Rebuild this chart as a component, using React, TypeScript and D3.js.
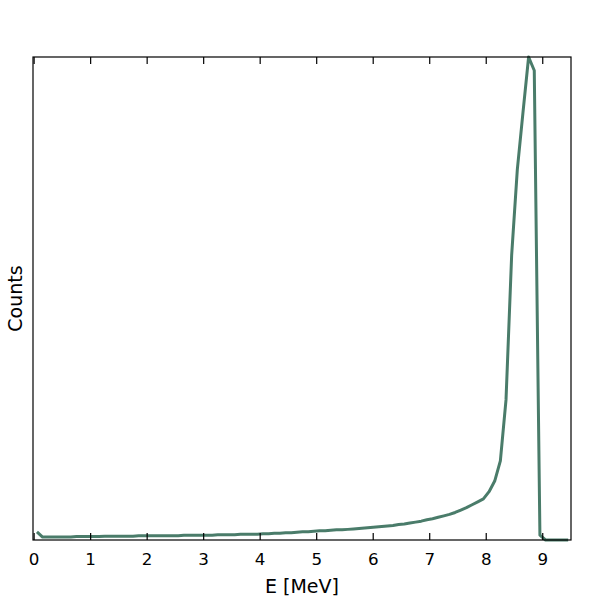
import React from "react";
import * as d3 from "d3";

// Bin centres (MeV) and counts (arbitrary units, peak = 1000)
const energies: number[] = [
  0.05, 0.15, 0.25, 0.35, 0.45, 0.55, 0.65, 0.75, 0.85, 0.95,
  1.05, 1.15, 1.25, 1.35, 1.45, 1.55, 1.65, 1.75, 1.85, 1.95,
  2.05, 2.15, 2.25, 2.35, 2.45, 2.55, 2.65, 2.75, 2.85, 2.95,
  3.05, 3.15, 3.25, 3.35, 3.45, 3.55, 3.65, 3.75, 3.85, 3.95,
  4.05, 4.15, 4.25, 4.35, 4.45, 4.55, 4.65, 4.75, 4.85, 4.95,
  5.05, 5.15, 5.25, 5.35, 5.45, 5.55, 5.65, 5.75, 5.85, 5.95,
  6.05, 6.15, 6.25, 6.35, 6.45, 6.55, 6.65, 6.75, 6.85, 6.95,
  7.05, 7.15, 7.25, 7.35, 7.45, 7.55, 7.65, 7.75, 7.85, 7.95,
  8.05, 8.15, 8.25, 8.35, 8.45, 8.55, 8.65, 8.75, 8.85, 8.95,
  9.05, 9.15, 9.25, 9.35, 9.45,
];
const counts: number[] = [
  17, 6, 6, 6, 6, 6, 6, 7, 7, 7,
  7, 7, 8, 8, 8, 8, 8, 8, 9, 9,
  9, 9, 9, 9, 9, 9, 10, 10, 10, 10,
  10, 10, 11, 11, 11, 11, 12, 12, 12, 12,
  13, 13, 14, 14, 15, 15, 16, 17, 17, 18,
  19, 19, 20, 21, 21, 22, 23, 24, 25, 26,
  27, 28, 29, 30, 32, 33, 35, 37, 39, 42,
  44, 47, 50, 53, 57, 62, 67, 73, 79, 85,
  100, 122, 164, 290, 590, 767, 885, 1000, 972, 10,
  0, 0, 0, 0, 0,
];
const xTicks: number[] = [0, 1, 2, 3, 4, 5, 6, 7, 8, 9];
const xLabel = "E [MeV]";
const yLabel = "Counts";

export default function App() {
  const W = 600, H = 600;
  const left = 33, right = 571, top = 57, bottom = 540;
  const x = d3.scaleLinear().domain([-0.02, 9.5]).range([left, right]);
  const y = d3.scaleLinear().domain([0, d3.max(counts) as number]).range([bottom, top]);
  const data = energies.map((e, i) => [e, counts[i]] as [number, number]);
  const line = d3.line<[number, number]>().x((d) => x(d[0])).y((d) => y(d[1]));
  const tickLen = 7;
  return (
    <svg width={W} height={H} style={{ position: "absolute", left: 0, top: 0 }}
      fontFamily="DejaVu Sans">
      <rect x={0} y={0} width={W} height={H} fill="#fff" />
      <path d={line(data) || ""} fill="none" stroke="#4a7c6a" strokeWidth={3}
        strokeLinejoin="round" strokeLinecap="butt" />
      <rect x={left} y={top} width={right - left} height={bottom - top}
        fill="none" stroke="#000" strokeWidth={1.2} />
      {xTicks.map((t) => (
        <g key={t}>
          <line x1={x(t)} x2={x(t)} y1={bottom} y2={bottom - tickLen} stroke="#000" strokeWidth={1.2} />
          <line x1={x(t)} x2={x(t)} y1={top} y2={top + tickLen} stroke="#000" strokeWidth={1.2} />
          <text x={x(t)} y={565} textAnchor="middle" fontSize={16.7} fill="#000">{t}</text>
        </g>
      ))}
      <text x={(left + right) / 2} y={593} textAnchor="middle" fontSize={19} fill="#000">{xLabel}</text>
      <text transform={`translate(22, ${(top + bottom) / 2}) rotate(-90)`} textAnchor="middle"
        fontSize={19} fill="#000">{yLabel}</text>
    </svg>
  );
}
